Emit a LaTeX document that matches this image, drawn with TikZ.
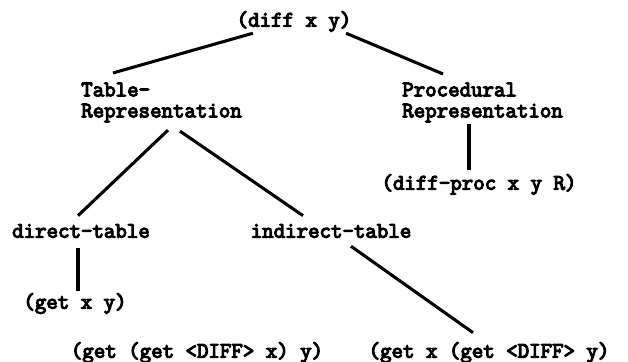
\documentclass[tikz,border=0pt]{standalone}
\usepackage{fontspec}
\newfontfamily\lispfont{Latin Modern Mono}[FakeBold=5]
\usetikzlibrary{calc}
\begin{document}
\begin{tikzpicture}[x=0.75pt,y=-0.75pt,
  font=\lispfont\fontsize{16.7pt}{15.75pt}\selectfont,
  lbl/.style={inner sep=0pt,text height=10pt,text depth=3pt},
  blk/.style={inner sep=0pt,align=left,anchor=west},
  edge/.style={line width=2.3pt}]
  \useasboundingbox (0,0) rectangle (628,361);
  \node[lbl] (root) at (294,22){(diff x y)};
  \node[blk] (tab) at (81,102.5){Table-\\Representation};
  \node[blk] (proc) at (402,102.5){Procedural\\Representation};
  \node[lbl] (dproc) at (479,185){(diff-proc x y R)};
  \node[lbl] (dtab) at (81,233){direct-table};
  \node[lbl] (itab) at (331,233){indirect-table};
  \node[lbl] (getd) at (75,304){(get x y)};
  \node[lbl] (geti1) at (197,353){(get (get <DIFF> x) y)};
  \node[lbl] (geti2) at (489,353){(get x (get <DIFF> y)};
  \draw[edge] ($(root.south west)+(16.5,2.3)$) -- ($(tab.north west)+(32,-9.5)$);
  \draw[edge] ($(root.south east)+(-5.5,2.3)$) -- ($(proc.north west)+(41,-8.5)$);
  \draw[edge] ($(tab.south west)+(87,7.6)$) -- ($(dtab.north)+(-3,-8.4)$);
  \draw[edge] ($(tab.south west)+(99,8.6)$) -- ($(itab.north)+(-28,-8.4)$);
  \draw[edge] ($(proc.south west)+(67,1.6)$) -- ($(dproc.north)+(-10,-6.4)$);
  \draw[edge] ($(dtab.south)+(-3,6.3)$) -- ($(getd.north)+(3,-4.4)$);
  \draw[edge] ($(itab.south)+(20,4.3)$) -- ($(geti2.north)+(-16,-11.4)$);
\end{tikzpicture}
\end{document}
